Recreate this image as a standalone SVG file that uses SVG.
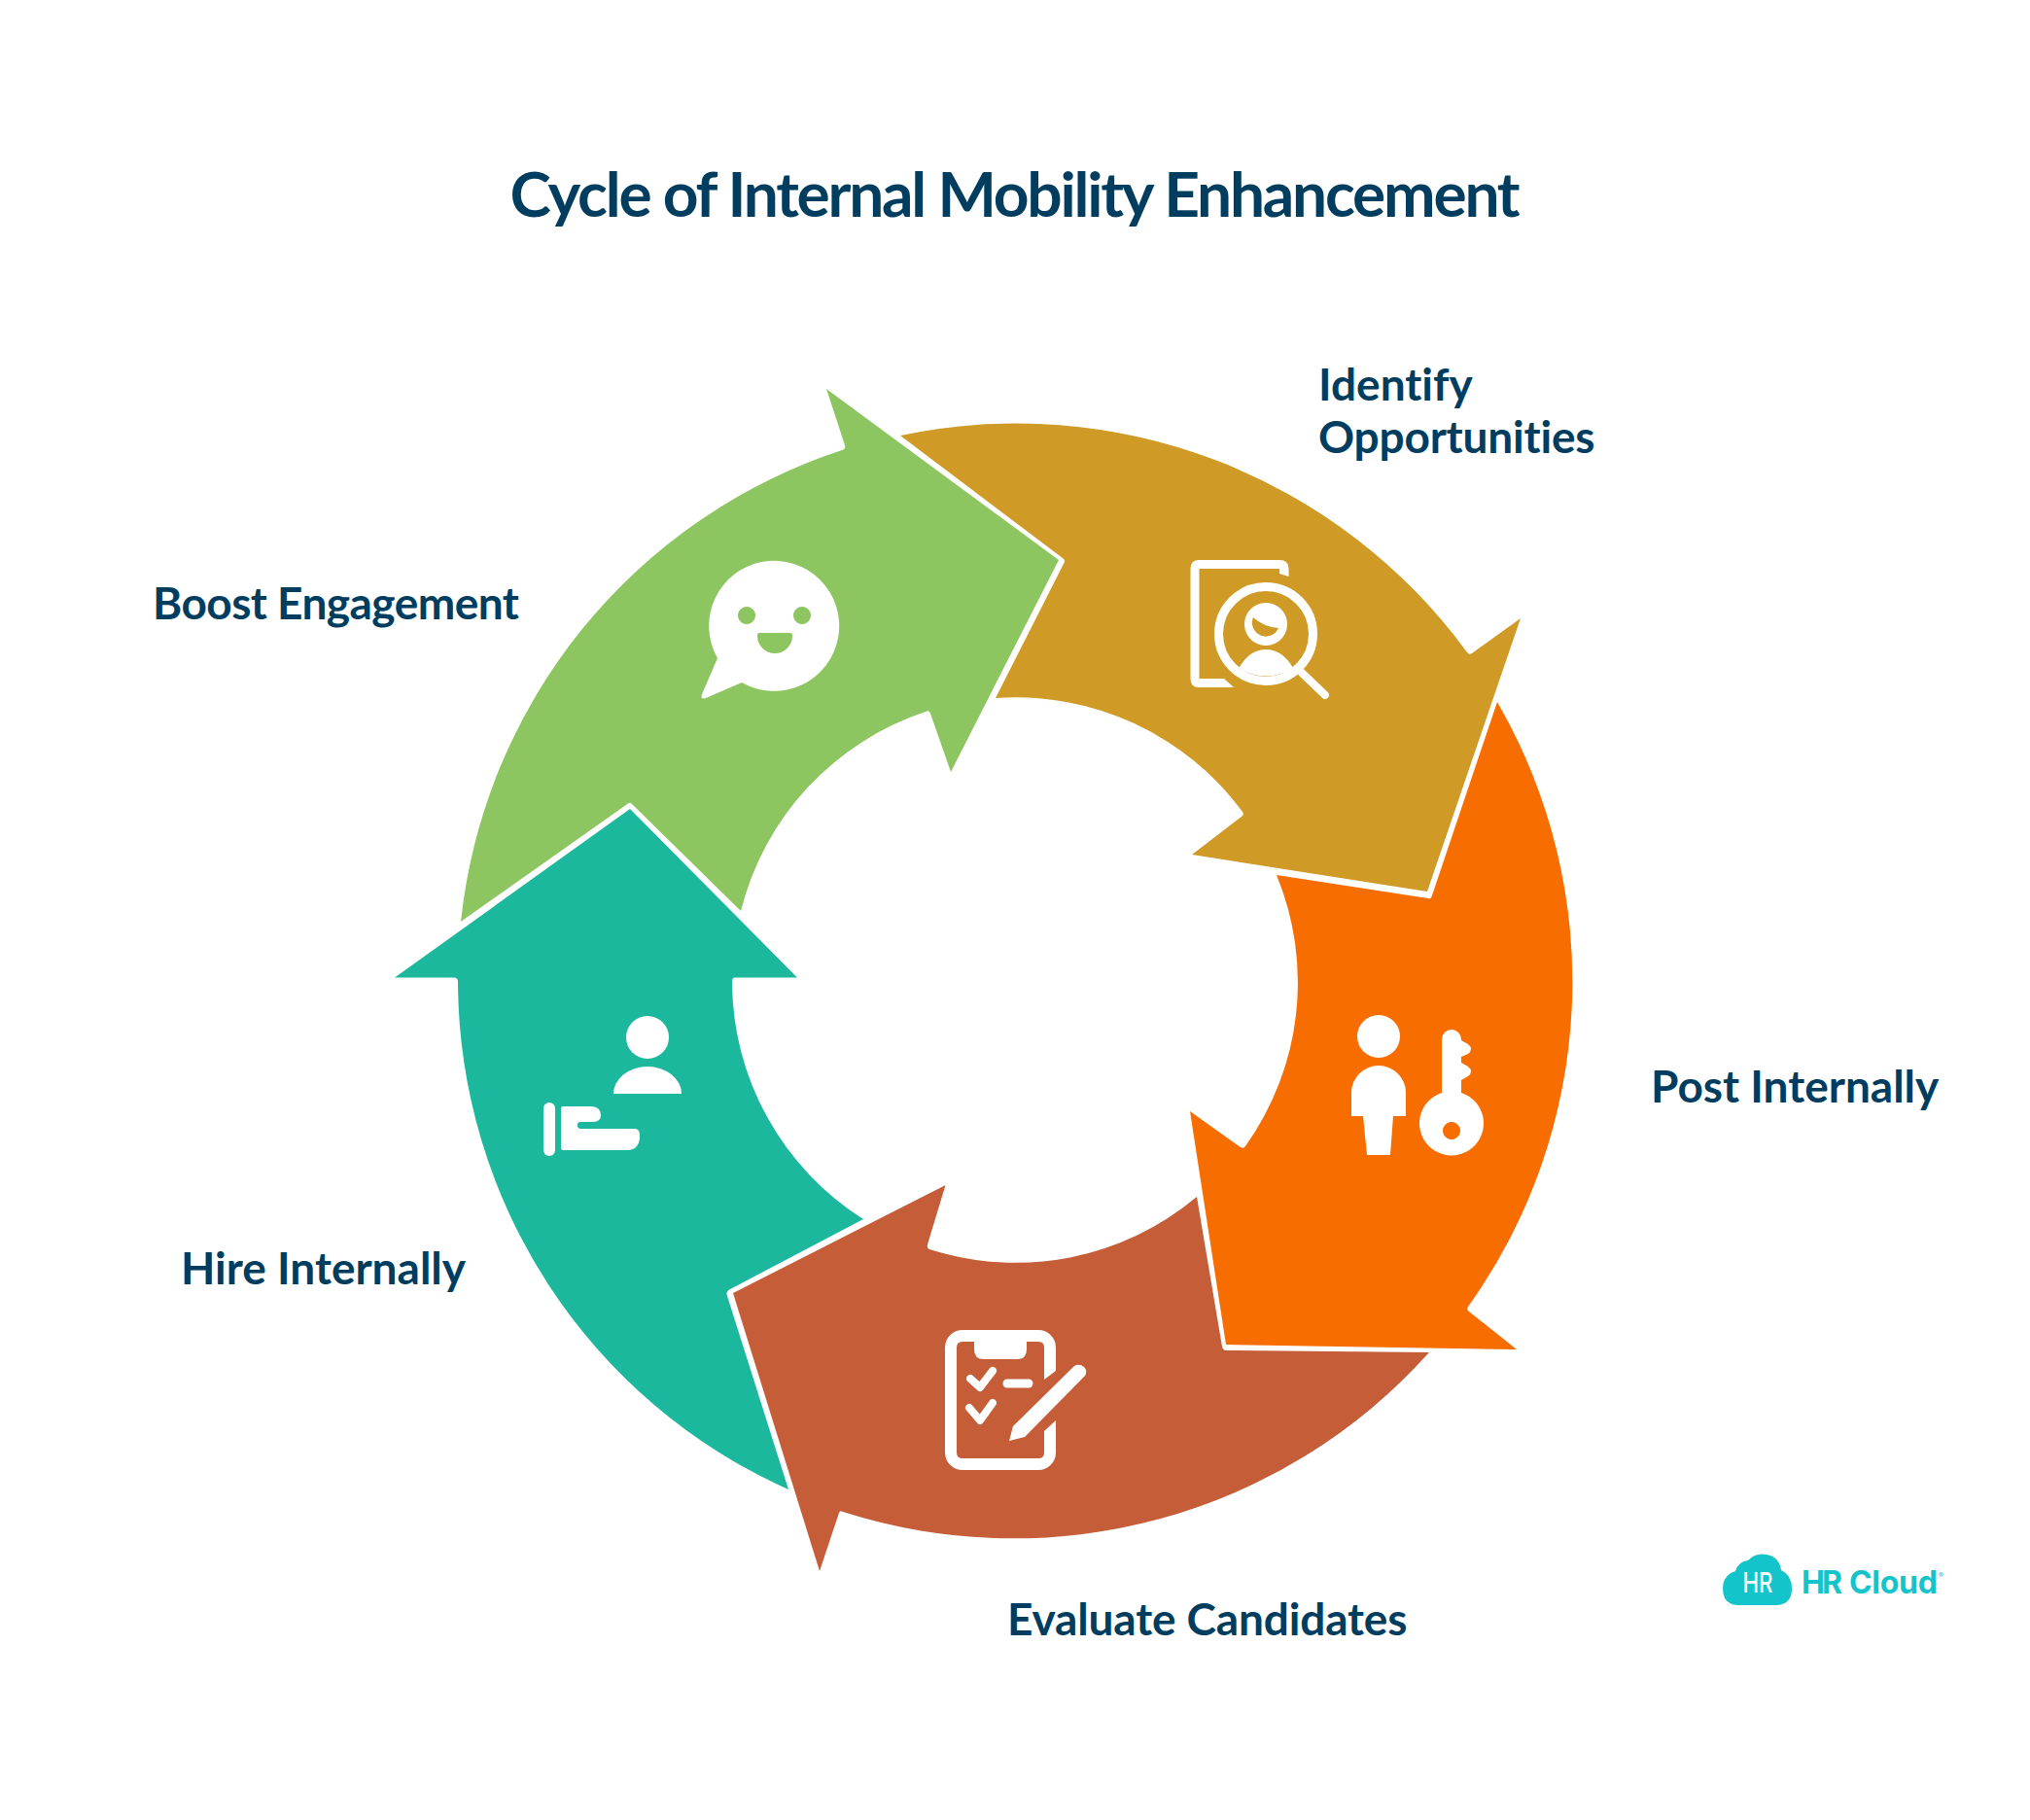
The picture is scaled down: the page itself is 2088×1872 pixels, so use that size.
<svg xmlns="http://www.w3.org/2000/svg" width="2088" height="1872" viewBox="0 0 2088 1872">
<style>
text{font-family:Lato,"Open Sans",sans-serif;font-weight:700;fill:#003d5f;font-variant-ligatures:none}
.lab{font-size:46px}
.ic{fill:#fff}
.ln{fill:none;stroke:#fff;stroke-linecap:round;stroke-linejoin:round}
</style>
<rect width="2088" height="1872" fill="#fff"/>
<text id="title" x="1043" y="223" font-size="64" text-anchor="middle" letter-spacing="-2.2">Cycle of Internal Mobility Enhancement</text>
<g id="node-identify">
<path fill="#cf9a25" d="M1468,917L1564,636L1514,672Q1511,674 1509,671A574,574 0 0 0 926,448L1093,574Q1096,576 1094.500,579L1024,718A290,290 0 0 1 1278,835Q1280,838 1277,840L1226,879Z"/>
<path class="ic" d="M1269,707H1233Q1224.500,707 1224.500,698V585Q1224.500,576 1233,576H1316Q1325.500,576 1325.500,585V593L1316,590V585H1233.500V698H1259Z"/>
<circle cx="1302" cy="652" r="48.500" fill="none" stroke="#fff" stroke-width="9"/>
<path class="ic" fill-rule="evenodd" d="M1302,620a22,22 0 1 0 .01,0ZM1289,635Q1300,645 1315,646A14,14 0 0 1 1289,635Z"/>
<path class="ic" d="M1274.500,687Q1285,668 1302,668Q1319,668 1330,687A49,49 0 0 1 1274.500,687Z"/>
<path class="ln" stroke-width="8" d="M1339,692L1363,715"/>
<text class="lab" x="1356" y="412">Identify</text>
<text class="lab" x="1356" y="466" letter-spacing="-0.2">Opportunities</text>
</g>
<g id="node-post">
<path fill="#f76d00" d="M1261,1383L1560,1388L1511,1349Q1508,1347 1510,1344A574,574 0 0 0 1540,722L1473,921Q1472,925 1469,924L1313,900A290,290 0 0 1 1281,1179Q1279,1182 1276,1180L1224,1143Z"/>
<circle class="ic" cx="1418" cy="1066" r="22"/>
<path class="ic" d="M1390,1148V1124A28,28 0 0 1 1446,1124V1148H1433L1430,1188H1406L1402,1148Z"/>
<path class="ic" fill-rule="evenodd" d="M1483,1124V1069A10,10 0 0 1 1503,1069V1070L1510,1074Q1516,1079 1510,1084L1503,1087V1093L1510,1097Q1516,1102 1510,1107L1503,1111V1124A33,33 0 1 1 1483,1124ZM1493,1154a9,9 0 1 0 .01,0Z"/>
<text class="lab" x="1698" y="1134">Post Internally</text>
</g>
<g id="node-evaluate">
<path fill="#c45d38" d="M754,1330L972.500,1219L954,1280Q953,1284 956,1285A290,290 0 0 0 1231,1231L1257,1385Q1258,1389 1261,1389L1470,1391A574,574 0 0 1 867,1555Q864,1553 863,1556L843,1616Z"/>
<path class="ic" d="M1086,1410V1386A18,18 0 0 0 1068,1368H990A18,18 0 0 0 972,1386V1494A18,18 0 0 0 990,1512H1068A18,18 0 0 0 1086,1494V1461L1074,1472V1494Q1074,1500 1068,1500H990Q984,1500 984,1494V1386Q984,1380 990,1380H1002V1388Q1002,1398 1012,1398H1046Q1056,1398 1056,1388V1380H1068Q1074,1380 1074,1386V1419Z"/>
<path class="ln" stroke-width="8" d="M998,1418L1008,1427L1021,1410M997,1448L1008,1461L1021,1443"/>
<path class="ln" stroke-width="9" d="M1036,1423H1058"/>
<path class="ic" d="M1038,1482L1042,1467L1105,1405Q1110,1402 1115,1406Q1119,1410 1116,1415L1054,1478Z"/>
<text class="lab" x="1036" y="1682" letter-spacing="-0.15">Evaluate Candidates</text>
</g>
<g id="node-hire">
<path fill="#1bb89d" d="M648,832L820,1005.500H756Q753,1005.500 753,1009A290,290 0 0 0 888,1254L751,1326Q746,1329 748,1333L811,1532A574,574 0 0 1 471,1010Q471,1005.500 467,1005.500H406Z"/>
<g transform="translate(0 1)">
<circle class="ic" cx="666" cy="1066" r="22"/>
<path class="ic" d="M631,1124A35,28 0 0 1 701,1124Z"/>
<rect class="ic" x="559" y="1133" width="12" height="55" rx="6"/>
<path class="ic" d="M579,1137H607Q618,1137 618,1146Q618,1153 610,1153H597Q594,1153 594,1156Q594,1160 597,1160H653Q658,1160 658,1167Q658,1182 645,1182H579Q577,1182 577,1180V1139Q577,1137 579,1137Z"/>
</g>
<text class="lab" x="186" y="1321">Hire Internally</text>
</g>
<g id="node-boost">
<path fill="#8dc660" d="M1089,576L978,794L957,734Q956,730 952,732A290,290 0 0 0 762,937L650,827Q648,825 646,826.500L474,948A574,574 0 0 1 866,463Q870,462 869,458L850,400Z"/>
<path class="ic" fill-rule="evenodd" d="M738,677A67,67 0 1 1 763,702L726,718Q720,720 722,714ZM768,624a9,9 0 1 0 .01,0ZM825,624a9,9 0 1 0 .01,0ZM781,651Q779,651 779,654A18,18 0 0 0 815,654Q815,651 813,651Z"/>
<text class="lab" x="157" y="637" letter-spacing="-0.55">Boost Engagement</text>
</g>
<g id="logo">
<path fill="#14c4cb" d="M1787,1651Q1772,1650 1772,1634Q1772,1620 1785,1616Q1788,1606 1798,1605Q1806,1597 1817,1599Q1830,1601 1832,1615Q1843,1620 1843,1634Q1843,1650 1828,1651Z"/>
<text x="1808" y="1638" font-size="29" text-anchor="middle" textLength="31" lengthAdjust="spacingAndGlyphs" style="fill:#fff;font-family:Inter,sans-serif;font-weight:500">HR</text>
<text y="1639" font-size="32" style="fill:#14c4cb;font-family:Inter,sans-serif;font-weight:700"><tspan x="1853" letter-spacing="-3">HR </tspan><tspan x="1902" letter-spacing="-0.3">Cloud</tspan></text>
<text x="1994" y="1623" font-size="7" style="fill:#14c4cb;font-family:Inter,sans-serif;font-weight:400">®</text>
</g>
</svg>
